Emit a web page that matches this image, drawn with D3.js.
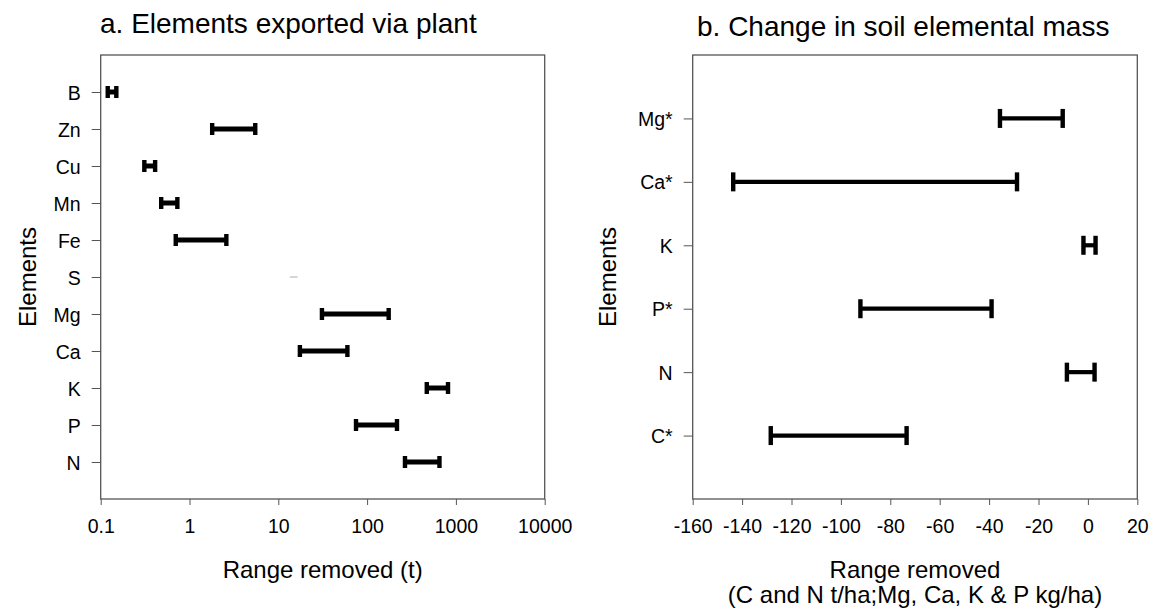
<!DOCTYPE html>
<html>
<head>
<meta charset="utf-8">
<script src="https://cdn.jsdelivr.net/npm/d3@7"></script>
<style>
  body { margin: 0; background: #fff; }
  svg { font-family: Arial, "Liberation Sans", sans-serif; }
  .tick line { stroke: #555; }
  .title { font-size: 28px; }
  .axis-label { font-size: 24px; }
  .y-label { font-size: 24px; }
</style>
</head>
<body>
<svg></svg>
<script>
// datos panel a: exportado por la planta (log)
const plantElements = ["B", "Zn", "Cu", "Mn", "Fe", "S", "Mg", "Ca", "K", "P", "N"];
const plantLow = [0.12, 1.8, 0.31, 0.48, 0.7, 13.5, 31, 17.5, 470, 75, 267];
const plantHigh = [0.15, 5.5, 0.41, 0.73, 2.6, 16.5, 175, 60, 815, 217, 653];
const faintElements = ["S"];
const plantTicks = [0.1, 1, 10, 100, 1000, 10000];
const plantTickLabels = ["0.1", "1", "10", "100", "1000", "10000"];

// datos panel b: cambio en el suelo
const soilElements = ["Mg*", "Ca*", "K", "P*", "N", "C*"];
const soilLow = [-35.6, -143.6, -1.8, -92.1, -8.5, -128.4];
const soilHigh = [-10.2, -28.7, 3.1, -39.0, 2.7, -73.4];
const soilTicks = [-160, -140, -120, -100, -80, -60, -40, -20, 0, 20];

const width = 1150;
const height = 610;
const svg = d3.select("svg").attr("width", width).attr("height", height);

const plotTop = 55, plotBottom = 499;

function panel(opts) {
  const { left, right, x, cats, low, high, ticks, labels, capH, lineW, title, titleX, titleY, xTitle, yTitleX } = opts;

  const y = d3.scalePoint().domain(cats).range([plotTop, plotBottom]).padding(1);

  // caja
  svg.append("rect")
    .attr("x", left).attr("y", plotTop)
    .attr("width", right - left).attr("height", plotBottom - plotTop)
    .attr("fill", "none").attr("stroke", "#555").attr("stroke-width", 1.3);

  // eje x
  const gx = svg.append("g")
    .attr("transform", `translate(0,${plotBottom})`)
    .call(d3.axisBottom(x).tickValues(ticks).tickFormat((d, i) => labels[i]).tickSize(6).tickSizeOuter(0).tickPadding(14));
  gx.select(".domain").remove();
  gx.attr("font-size", null).attr("font-family", null);
  gx.selectAll("text").attr("font-size", "19.5px").attr("fill", "#000");

  // eje y
  const gy = svg.append("g")
    .attr("transform", `translate(${left},0)`)
    .call(d3.axisLeft(y).tickSize(9).tickSizeOuter(0).tickPadding(11));
  gy.select(".domain").remove();
  gy.attr("font-size", null).attr("font-family", null);
  gy.selectAll("text").attr("font-size", "19.5px").attr("fill", "#000").attr("dy", "0.36em");

  // barras de rango
  cats.forEach((c, i) => {
    const x0 = x(low[i]), x1 = x(high[i]), yy = y(c);
    if (faintElements.includes(c) && opts.log) {
      svg.append("line")
        .attr("x1", x0).attr("x2", x1).attr("y1", yy).attr("y2", yy)
        .attr("stroke", "#bbb").attr("stroke-width", 1.2);
      return;
    }
    svg.append("line")
      .attr("x1", x0).attr("x2", x1).attr("y1", yy).attr("y2", yy)
      .attr("stroke", "#000").attr("stroke-width", lineW);
    [x0, x1].forEach(cx => {
      svg.append("rect")
        .attr("x", cx - 2.2).attr("y", yy - capH / 2)
        .attr("width", 4.4).attr("height", capH)
        .attr("fill", "#000");
    });
  });

  // titulo
  svg.append("text").attr("class", "title")
    .attr("x", titleX).attr("y", titleY).text(title);

  // etiqueta x
  xTitle.forEach((t, i) => {
    svg.append("text").attr("class", "axis-label")
      .attr("x", (left + right) / 2).attr("y", 578 + i * 25)
      .attr("text-anchor", "middle").text(t);
  });

  // etiqueta y
  svg.append("text").attr("class", "y-label")
    .attr("transform", "rotate(-90)")
    .attr("x", -(plotTop + plotBottom) / 2).attr("y", yTitleX)
    .attr("text-anchor", "middle").text("Elements");
}

const xa = d3.scaleLog().domain([0.1, 10000]).range([100.7, 544.7]);
panel({
  log: true, left: 100.7, right: 544.7, x: xa,
  cats: plantElements, low: plantLow, high: plantHigh,
  ticks: plantTicks, labels: plantTickLabels,
  capH: 12, lineW: 5,
  title: "a. Elements exported via plant", titleX: 100, titleY: 33,
  xTitle: ["Range removed (t)"], yTitleX: 36
});

const xb = d3.scaleLinear().domain([-160, 20]).range([692.7, 1137.3]);
panel({
  log: false, left: 692.7, right: 1137.3, x: xb,
  cats: soilElements, low: soilLow, high: soilHigh,
  ticks: soilTicks, labels: soilTicks.map(String),
  capH: 19, lineW: 4.2,
  title: "b. Change in soil elemental mass", titleX: 697, titleY: 36,
  xTitle: ["Range removed", "(C and N t/ha;Mg, Ca, K & P kg/ha)"], yTitleX: 616
});
</script>
</body>
</html>
